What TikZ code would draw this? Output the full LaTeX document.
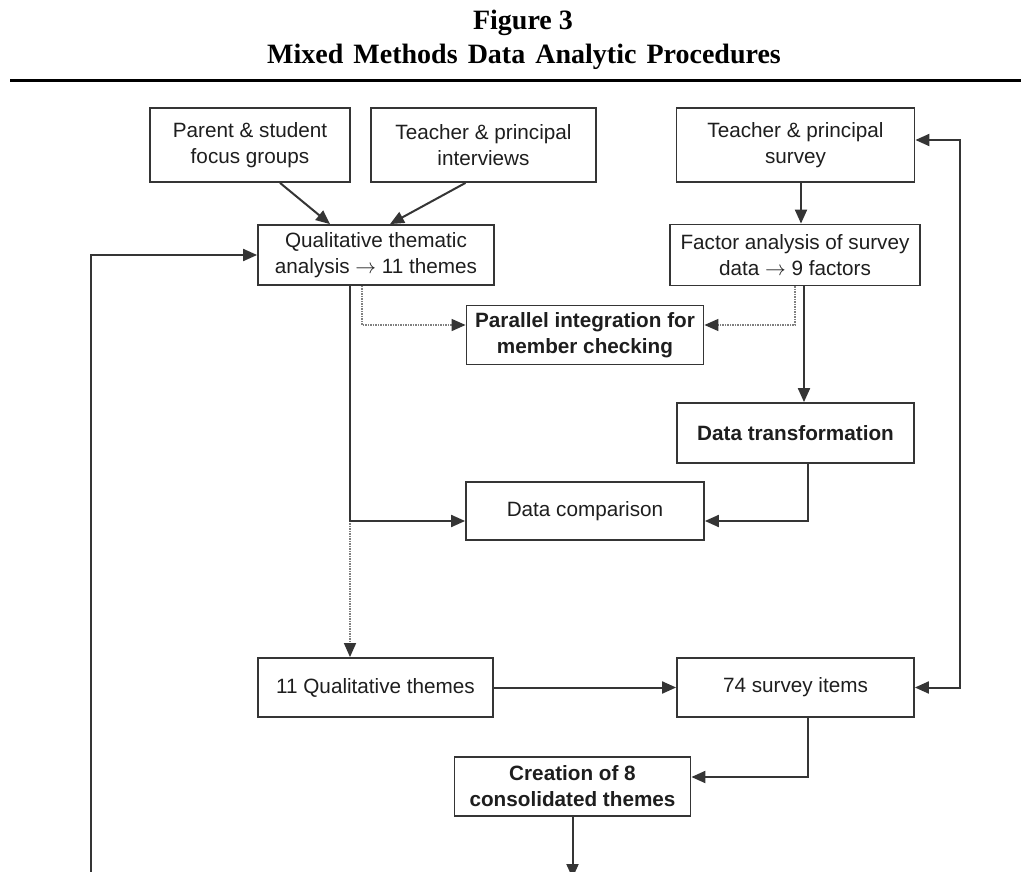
\documentclass[tikz,border=0pt]{standalone}
\usepackage{fontspec}
\setmainfont{Liberation Serif}
\newfontfamily\bodyfont{Liberation Sans}
\usetikzlibrary{arrows.meta,calc}
\definecolor{linegray}{HTML}{353535}
\definecolor{textgray}{HTML}{1E1E1E}
\begin{document}
\begin{tikzpicture}[x=1pt,y=-1pt,
  box/.style={draw=linegray, line width=1.8pt, fill=white, inner sep=0pt,
    align=center, text=textgray, font=\bodyfont\fontsize{20.7}{26}\selectfont},
  boldbox/.style={box, font=\bodyfont\bfseries\fontsize{20.7}{26}\selectfont},
  flow/.style={draw=linegray, line width=2pt, -{Triangle[length=14pt,width=12pt]}},
  dotflow/.style={draw=gray, line width=1.5pt, densely dotted,
    -{Triangle[length=14pt,width=12pt,color=linegray]}},
  titletext/.style={font=\bfseries\fontsize{28}{35}\selectfont, anchor=base, inner sep=0pt}
]
\useasboundingbox (0,0) rectangle (1021,872);
\clip (0,0) rectangle (1021,872);

% heading and rule
\node[titletext] (t1) at (523,30) {Figure 3};
\node[titletext] (t2) at (524,64) {Mixed\hspace{0.36em}Methods\hspace{0.36em}Data\hspace{0.36em}Analytic\hspace{0.36em}Procedures};
\draw[line width=3pt, black] (10,81) -- (1021,81);

% boxes
\node[box, minimum width=200pt, minimum height=74pt] (b1) at (250,145) {Parent \& student\\focus groups};
\node[box, minimum width=225pt, minimum height=74pt] (b2) at (483.5,145) {Teacher \& principal\\interviews};
\node[box, minimum width=238pt, minimum height=74pt] (b3) at (795.5,145) {Teacher \& principal\\survey};
\node[box, minimum width=236pt, minimum height=60pt] (b4) at (376,255) {Qualitative thematic\\analysis $\rightarrow$ 11 themes};
\node[box, minimum width=250pt, minimum height=61pt] (b5) at (795,255) {Factor analysis of survey\\data $\rightarrow$ 9 factors};
\node[boldbox, minimum width=237pt, minimum height=59pt] (b6) at (585,335) {Parallel integration for\\member checking};
\node[boldbox, minimum width=237pt, minimum height=60pt] (b7) at (795.5,433) {Data transformation};
\node[box, minimum width=238pt, minimum height=58pt] (b8) at (585,511) {Data comparison};
\node[box, minimum width=235pt, minimum height=59pt] (b9) at (375.5,687.5) {11 Qualitative themes};
\node[box, minimum width=237pt, minimum height=59pt] (b10) at (795.5,687.5) {74 survey items};
\node[boldbox, minimum width=236pt, minimum height=59pt] (b11) at (572.5,786.5) {Creation of 8\\consolidated themes};

% routing positions
\coordinate (xQs) at (350,0);
\coordinate (xQd) at (362,0);
\coordinate (xFd) at (795,0);
\coordinate (xFs) at (804,0);
\coordinate (xS) at (801,0);
\coordinate (xT) at (808,0);
\coordinate (xR) at (960,0);
\coordinate (yP) at (0,325);
\coordinate (yC) at (0,521);
\coordinate (yE) at (0,777);
\coordinate (yS) at (0,140);
\coordinate (lft) at (91,872);
\coordinate (bot) at (572.5,878);

% connectors
\draw[flow] ([xshift=30]b1.south) -- ([xshift=-46]b4.north);
\draw[flow] ([xshift=-18]b2.south) -- ([xshift=14]b4.north);
\draw[flow] (b3.south -| xS) -- (b5.north -| xS);
\draw[dotflow] (b4.south -| xQd) |- (b6.west |- yP);
\draw[dotflow] (b5.south -| xFd) |- (b6.east |- yP);
\draw[flow] (b5.south -| xFs) -- (b7.north -| xFs);
\draw[dotflow] (b4.south -| xQs) -- (b9.north -| xQs);
\draw[flow] (b4.south -| xQs) |- (b8.west |- yC);
\draw[flow] (b7.south -| xT) |- (b8.east |- yC);
\draw[flow] (b9) -- (b10);
\draw[draw=linegray, line width=2pt, {Triangle[length=14pt,width=12pt]}-{Triangle[length=14pt,width=12pt]}]
  (b3.east |- yS) -| (xR |- b10.east) -- (b10.east);
\draw[flow] (b10.south -| xT) |- (b11.east |- yE);
\draw[flow] (b11) -- (bot);
\draw[flow] (lft) |- (b4.west);
\end{tikzpicture}
\end{document}
